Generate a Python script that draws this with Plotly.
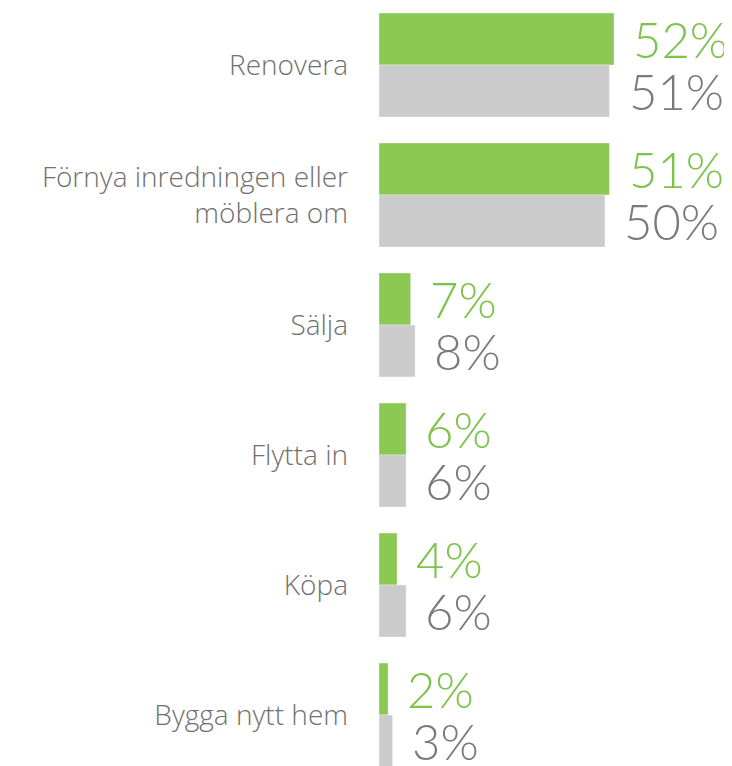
import plotly.graph_objects as go

categories = ["Renovera", "Förnya inredningen eller<br>möblera om", "Sälja", "Flytta in", "Köpa", "Bygga nytt hem"]
green_values = [52, 51, 7, 6, 4, 2]
gray_values = [51, 50, 8, 6, 6, 3]

GREEN = "#8cc854"
GREEN_TXT = "#7dc24a"
GRAY = "#cbcbcb"
GRAY_TXT = "#7a7a7a"

idx = list(range(len(categories)))

fig = go.Figure()
fig.add_trace(go.Bar(y=idx, x=green_values, orientation="h",
                     marker=dict(color=GREEN, line=dict(color="rgba(255,255,255,0.35)", width=1)),
                     hoverinfo="skip"))
fig.add_trace(go.Bar(y=idx, x=gray_values, orientation="h",
                     marker=dict(color=GRAY, line=dict(color="rgba(255,255,255,0.35)", width=1)),
                     hoverinfo="skip"))

VALFONT = dict(family="Lato", size=49, weight=300)
for i, (g, s) in enumerate(zip(green_values, gray_values)):
    fig.add_annotation(x=g, y=i, text=f"{g}%", showarrow=False, xanchor="left", yanchor="middle",
                       xshift=17, yshift=26, font=dict(color=GREEN_TXT, **VALFONT))
    fig.add_annotation(x=s, y=i, text=f"{s}%", showarrow=False, xanchor="left", yanchor="middle",
                       xshift=17, yshift=-26, font=dict(color=GRAY_TXT, **VALFONT))

W, H = 724, 758
top = -0.5 + 8 / 130
fig.update_layout(
    width=W, height=H,
    margin=dict(l=371, r=0, t=0, b=0),
    paper_bgcolor="white", plot_bgcolor="white",
    barmode="group", bargap=0.2, bargroupgap=0,
    showlegend=False,
    xaxis=dict(range=[0, (W - 371) / 4.52], visible=False, fixedrange=True),
    yaxis=dict(range=[top + H / 130, top], tickmode="array", tickvals=idx, ticktext=categories,
               showgrid=False, zeroline=False, showline=False, ticks="",
               ticklabelstandoff=30,
               tickfont=dict(family="Open Sans", size=28, weight=300, color="#707070")),
)
fig.write_html("out.html")
